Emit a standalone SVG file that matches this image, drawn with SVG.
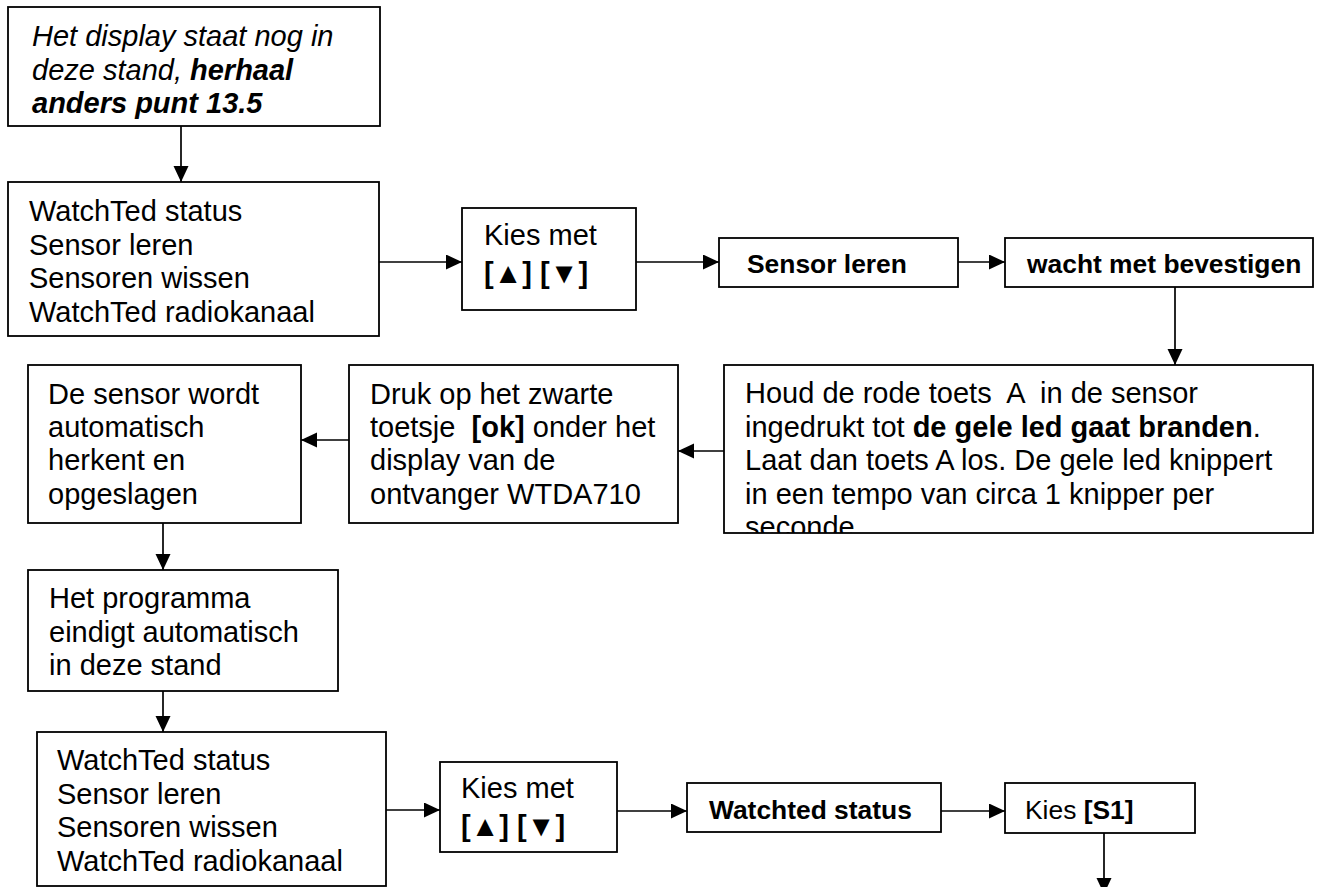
<svg xmlns="http://www.w3.org/2000/svg" width="1317" height="887" viewBox="0 0 1317 887">
<style>
.box{fill:#fff;stroke:#000;stroke-width:1.8}
.t{font-family:"Liberation Sans",Arial,sans-serif;font-size:29px;fill:#000;white-space:pre}
.s{font-size:26.4px}
.b{font-weight:bold}
.i{font-style:italic}
.c{fill:none;stroke:#000;stroke-width:1.7}
</style>
<defs>
<marker id="ah" markerUnits="userSpaceOnUse" markerWidth="17" markerHeight="16" refX="16" refY="7.5" orient="auto">
<path d="M0,0 L16,7.5 L0,15 z" fill="#000"/>
</marker>
<clipPath id="clipF"><rect x="724" y="365" width="589" height="168"/></clipPath>
</defs>
<rect width="1317" height="887" fill="#fff"/>
<g id="connectors">
<line class="c" x1="181" y1="126" x2="181" y2="182" marker-end="url(#ah)"/>
<line class="c" x1="379" y1="262" x2="462" y2="262" marker-end="url(#ah)"/>
<line class="c" x1="636" y1="262" x2="719" y2="262" marker-end="url(#ah)"/>
<line class="c" x1="958" y1="262" x2="1005" y2="262" marker-end="url(#ah)"/>
<line class="c" x1="1175" y1="287" x2="1175" y2="365" marker-end="url(#ah)"/>
<line class="c" x1="724" y1="451" x2="678" y2="451" marker-end="url(#ah)"/>
<line class="c" x1="349" y1="440" x2="301" y2="440" marker-end="url(#ah)"/>
<line class="c" x1="163" y1="523" x2="163" y2="570" marker-end="url(#ah)"/>
<line class="c" x1="163" y1="691" x2="163" y2="732" marker-end="url(#ah)"/>
<line class="c" x1="386" y1="810" x2="440" y2="810" marker-end="url(#ah)"/>
<line class="c" x1="617" y1="811" x2="687" y2="811" marker-end="url(#ah)"/>
<line class="c" x1="941" y1="811" x2="1005" y2="811" marker-end="url(#ah)"/>
<line class="c" x1="1104" y1="833" x2="1104" y2="894" marker-end="url(#ah)"/>
</g>
<g id="nodeA">
<rect class="box" x="8" y="7" width="372" height="119"/>
<text class="t i" x="32" y="46">Het display staat nog in</text>
<text class="t i" x="32" y="79.5">deze stand, <tspan class="b">herhaal</tspan></text>
<text class="t i b" x="32" y="113">anders punt 13.5</text>
</g>
<g id="nodeB">
<rect class="box" x="8" y="182" width="371" height="154"/>
<text class="t" x="29" y="221">WatchTed status</text>
<text class="t" x="29" y="254.5">Sensor leren</text>
<text class="t" x="29" y="288">Sensoren wissen</text>
<text class="t" x="29" y="321.5">WatchTed radiokanaal</text>
</g>
<g id="nodeC">
<rect class="box" x="462" y="208" width="174" height="102"/>
<text class="t" x="484" y="245">Kies met</text>
<text class="t b" x="484" y="283">[▲] [▼]</text>
</g>
<g id="nodeD">
<rect class="box" x="719" y="238" width="239" height="49"/>
<text class="t s b" x="747" y="273">Sensor leren</text>
</g>
<g id="nodeE">
<rect class="box" x="1005" y="238" width="308" height="49"/>
<text class="t s b" x="1027" y="273">wacht met bevestigen</text>
</g>
<g id="nodeF">
<rect class="box" x="724" y="365" width="589" height="168"/>
<g clip-path="url(#clipF)">
<text class="t" x="745" y="403">Houd de rode toets  A  in de sensor</text>
<text class="t" x="745" y="436.5">ingedrukt tot <tspan class="b">de gele led gaat branden</tspan>.</text>
<text class="t" x="745" y="470">Laat dan toets A los. De gele led knippert</text>
<text class="t" x="745" y="503.5">in een tempo van circa 1 knipper per</text>
<text class="t" x="745" y="537">seconde.</text>
</g>
</g>
<g id="nodeDruk">
<rect class="box" x="349" y="365" width="329" height="158"/>
<text class="t" x="370" y="404">Druk op het zwarte</text>
<text class="t" x="370" y="437">toetsje  <tspan class="b">[ok]</tspan> onder het</text>
<text class="t" x="370" y="470">display van de</text>
<text class="t" x="370" y="503.5">ontvanger WTDA710</text>
</g>
<g id="nodeSensor">
<rect class="box" x="28" y="365" width="273" height="158"/>
<text class="t" x="48" y="404">De sensor wordt</text>
<text class="t" x="48" y="437">automatisch</text>
<text class="t" x="48" y="470">herkent en</text>
<text class="t" x="48" y="503.5">opgeslagen</text>
</g>
<g id="nodeG">
<rect class="box" x="28" y="570" width="310" height="121"/>
<text class="t" x="49" y="608">Het programma</text>
<text class="t" x="49" y="641.5">eindigt automatisch</text>
<text class="t" x="49" y="675">in deze stand</text>
</g>
<g id="nodeH">
<rect class="box" x="37" y="732" width="349" height="154"/>
<text class="t" x="57" y="770">WatchTed status</text>
<text class="t" x="57" y="803.5">Sensor leren</text>
<text class="t" x="57" y="837">Sensoren wissen</text>
<text class="t" x="57" y="870.5">WatchTed radiokanaal</text>
</g>
<g id="nodeI">
<rect class="box" x="440" y="762" width="177" height="90"/>
<text class="t" x="461" y="798">Kies met</text>
<text class="t b" x="461" y="836">[▲] [▼]</text>
</g>
<g id="nodeJ">
<rect class="box" x="687" y="783" width="254" height="49"/>
<text class="t s b" x="709" y="819">Watchted status</text>
</g>
<g id="nodeK">
<rect class="box" x="1005" y="783" width="190" height="50"/>
<text class="t s" x="1025" y="819">Kies <tspan class="b">[S1]</tspan></text>
</g>
</svg>
